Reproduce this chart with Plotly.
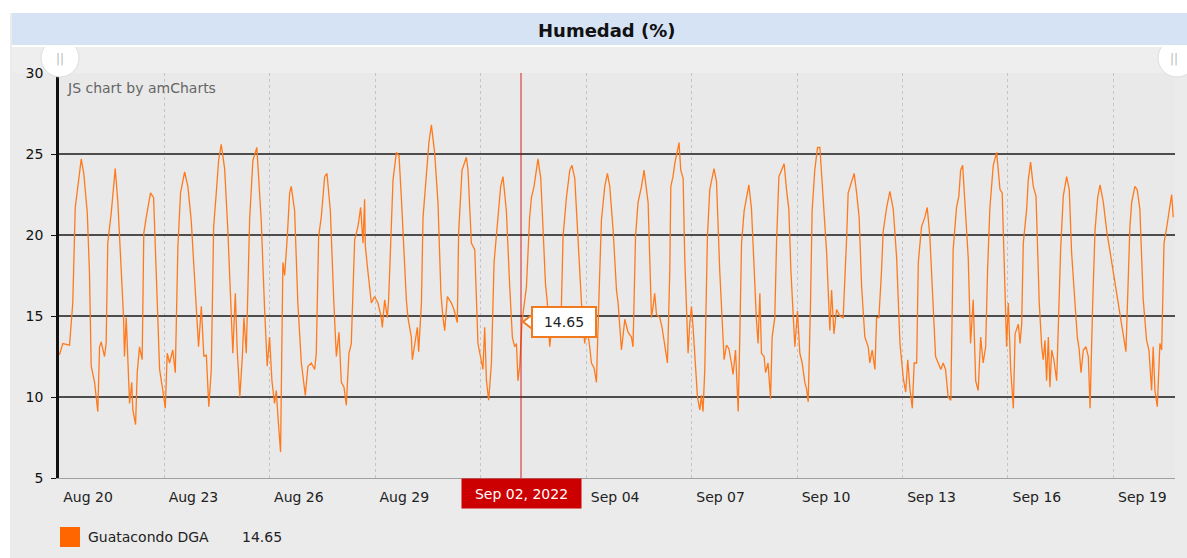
import pandas as pd
import plotly.graph_objects as go

# ---------------- data ----------------
START = "2022-08-20 00:00"
hours = [
    0.3, 2.6, 7.2, 9.4, 11.1, 12.8, 15.2, 16.9, 19.3, 20.8, 22.0, 24.3, 26.5, 27.7, 28.8, 31.1, 32.2, 33.3,
    35.7, 38.4, 40.2, 42.5, 44.1, 44.7, 45.9, 48.2, 49.7, 50.4, 52.3, 53.4, 55.0, 56.8, 57.9, 59.6, 62.5,
    64.6, 66.4, 68.7, 70.9, 72.6, 73.9, 75.5, 77.7, 79.4, 81.2, 83.0, 85.8, 88.0, 90.3, 92.6, 93.7, 95.3,
    97.2, 98.9, 100.6, 102.3, 104.0, 105.6, 107.4, 109.0, 110.8, 113.1, 115.3, 117.6, 118.7, 120.4, 121.7,
    123.5, 125.2, 126.3, 127.9, 130.2, 132.4, 135.1, 136.5, 138.1, 140.4, 142.2, 143.8, 145.4, 147.2,
    148.4, 149.5, 151.3, 152.9, 154.1, 155.9, 157.5, 158.6, 160.9, 163.1, 165.5, 168.2, 170.0, 172.3,
    174.6, 175.7, 177.3, 179.1, 181.4, 183.0, 185.3, 187.7, 189.4, 191.2, 192.8, 194.6, 196.2, 198.0,
    199.6, 201.9, 204.1, 206.0, 207.6, 208.7, 209.2, 211.0, 213.3, 215.5, 217.8, 220.1, 220.8, 222.4,
    224.2, 225.1, 226.5, 228.1, 230.4, 232.2, 233.8, 235.6, 237.2, 238.3, 240.6, 241.3, 242.9, 244.7,
    245.6, 247.5, 248.6, 250.9, 252.6, 254.3, 256.5, 258.8, 260.8, 262.2, 263.4, 265.2, 268.0, 269.7,
    272.0, 272.9, 275.2, 278.2, 279.3, 281.6, 283.9, 286.1, 288.0, 289.5, 290.7, 291.9, 293.4, 295.3,
    297.1, 299.8, 301.6, 303.2, 305.5, 307.8, 309.6, 311.2, 312.4, 313.4, 314.6, 316.2, 319.2, 321.4,
    322.6, 324.4, 326.0, 327.1, 329.0, 330.5, 332.2, 333.5, 335.1, 336.7, 338.5, 340.8, 342.6, 344.2,
    346.5, 348.8, 350.3, 352.2, 354.0, 355.6, 356.8, 359.0, 360.2, 362.4, 363.6, 365.4, 367.0, 368.6,
    370.4, 372.7, 374.5, 376.1, 378.4, 380.7, 381.8, 384.1, 386.4, 388.6, 390.9, 392.0, 393.7, 395.4,
    397.8, 399.5, 401.2, 402.3, 403.4, 404.6, 405.7, 406.8, 408.0, 410.3, 411.8, 413.7, 415.5, 417.1,
    417.8, 419.3, 420.5, 422.3, 423.4, 424.6, 426.2, 427.3, 428.5, 429.6, 430.7, 431.9, 433.0, 434.6,
    436.0, 437.6, 438.7, 439.8, 441.0, 442.8, 444.4, 447.3, 449.0, 451.2, 453.5, 454.2, 455.8, 457.4,
    459.2, 460.3, 462.0, 463.8, 464.9, 466.1, 467.9, 469.5, 471.1, 472.9, 474.7, 476.3, 477.4, 478.6,
    479.7, 481.5, 482.5, 484.2, 485.9, 487.0, 488.8, 490.0, 491.6, 493.4, 495.2, 496.8, 498.4, 499.8,
    501.3, 502.5, 504.3, 505.9, 507.5, 509.3, 510.5, 511.6, 513.2, 514.3, 516.1, 518.0, 519.6, 521.8,
    524.2, 526.4, 527.6, 529.2, 531.0, 533.3, 535.5, 537.9, 538.9, 541.3, 543.0, 544.7, 546.4, 548.1,
    550.3, 552.6, 553.7, 555.3, 557.2, 558.3, 559.9, 561.7, 562.8, 565.2, 567.4, 569.7, 572.0, 574.3,
    576.5, 578.2, 579.6, 581.1, 582.7, 584.0, 585.7, 586.8, 589.0, 591.3, 592.9, 594.7, 597.0, 598.6,
    600.4, 602.2, 603.8, 605.4, 607.2, 609.0, 610.6, 612.9, 614.5, 615.7, 617.1, 618.6, 620.9, 622.5,
    624.3, 626.0, 627.7, 629.4, 631.1, 632.8, 634.1, 635.7, 638.0, 640.3, 642.6, 644.1, 645.9, 647.1,
    648.3, 649.9, 651.7, 652.9, 655.1, 656.3, 657.4, 658.5, 660.8, 661.9, 663.5, 665.3, 667.2, 669.4,
    671.1, 672.1, 673.3, 674.4, 675.6, 676.7, 677.9, 679.4, 681.3, 682.4, 684.0, 685.8, 688.1, 689.9,
    691.5, 693.8, 695.4, 696.7, 697.9, 699.5, 701.3, 702.9, 704.1, 705.9, 707.5, 709.3, 710.9, 713.2,
    715.4, 728.6, 731.3, 732.5, 734.7, 736.3, 738.1, 740.4, 742.7, 744.3, 746.1, 747.2, 748.4, 750.0,
    751.8, 753.0, 754.6, 756.5, 758.2, 759.8, 760.9,
]
humidity = [
    12.6, 13.3, 13.2, 15.8, 21.7, 23.0, 24.7, 23.8, 21.4, 17.7, 11.9, 10.9, 9.1, 13.1, 13.4, 12.5, 13.3, 19.5,
    21.4, 24.1, 22.0, 17.8, 14.9, 12.5, 14.9, 9.6, 10.9, 9.2, 8.3, 11.5, 13.1, 12.3, 20.1, 21.1, 22.6,
    22.3, 17.8, 11.7, 10.4, 9.3, 12.7, 12.1, 12.9, 11.5, 19.3, 22.6, 23.9, 23.0, 20.9, 17.2, 16.1, 13.1,
    15.6, 12.5, 12.6, 9.4, 11.7, 20.5, 22.6, 24.6, 25.6, 24.1, 20.3, 15.8, 12.7, 16.4, 12.9,
    10.0, 12.5, 14.9, 12.7, 21.0, 24.6, 25.4, 23.6, 20.9, 15.4, 11.9, 13.7, 11.0, 9.6,
    10.4, 8.8, 6.6, 18.3, 17.5, 19.9, 22.6, 23.0, 21.5, 15.8, 12.1, 10.1, 11.9, 12.1,
    11.7, 12.7, 19.9, 21.1, 23.6, 23.8, 21.5, 15.8, 12.5, 14.0, 10.9, 10.6, 9.5, 12.7,
    13.3, 19.7, 20.5, 21.7, 19.5, 22.2, 19.3, 17.7, 15.8, 16.2, 15.8, 14.9, 14.3, 16.0,
    14.9, 16.0, 19.5, 23.4, 25.1, 24.9, 22.3, 18.6, 16.0, 14.9, 13.7, 12.3, 13.3, 14.3,
    12.8, 15.8, 21.1, 24.0, 25.7, 26.8, 25.1, 22.0, 16.4, 14.9, 14.1, 16.2, 15.8, 15.4,
    14.6, 20.1, 24.0, 24.8, 24.0, 19.5, 19.1, 13.3, 12.5, 11.7, 14.3, 11.0, 9.8, 12.1,
    18.3, 20.9, 23.0, 23.6, 21.5, 16.8, 13.7, 13.1, 13.3, 11.0, 11.9, 14.65, 16.8, 21.1,
    22.3, 23.0, 24.0, 24.7, 23.5, 19.9, 17.0, 15.8, 13.1, 14.5, 13.9, 13.7, 13.7, 19.9,
    22.3, 24.0, 24.3, 23.5, 20.3, 17.5, 15.8, 13.3, 14.6, 13.1, 12.1, 11.8, 10.9, 15.8,
    20.9, 23.0, 23.8, 23.0, 20.3, 16.6, 15.8, 12.9, 14.8, 14.0, 13.7, 13.1, 19.9, 22.0,
    23.0, 24.0, 22.7, 22.0, 18.6, 14.9, 15.6, 16.4, 15.1, 14.9, 14.3, 13.1, 12.1, 17.8,
    23.0, 23.6, 24.4, 25.2, 25.7, 24.0, 23.5, 18.6, 15.8, 12.7, 14.5, 15.6, 14.3, 11.7,
    10.0, 9.2, 10.1, 9.1, 11.7, 19.9, 22.8, 24.1, 23.3, 17.8, 14.1, 12.3, 13.2, 13.0,
    12.1, 11.4, 12.9, 9.1, 13.7, 19.5, 21.5, 22.4, 23.1, 21.6, 17.8, 14.7, 13.3, 16.4,
    12.7, 12.5, 11.5, 12.1, 9.9, 13.7, 14.9, 19.5, 23.6, 24.0, 24.4, 22.8, 21.6, 17.8,
    15.3, 13.1, 15.3, 12.7, 12.1, 10.9, 10.5, 9.7, 15.8, 21.5, 24.0, 25.4, 25.4, 22.0,
    18.9, 14.1, 16.6, 13.9, 15.4, 15.0, 14.9, 19.9, 22.6, 23.3, 23.8, 22.6, 21.1, 16.8,
    13.7, 13.1, 12.1, 12.9, 11.7, 14.9, 14.9, 17.8, 20.2, 21.7, 22.7, 21.6, 18.6, 13.3,
    11.2, 10.3, 12.3, 10.5, 9.3, 12.1, 12.1, 18.3, 20.5, 21.1, 21.7, 19.9, 15.8, 12.5,
    12.1, 11.7, 12.1, 11.7, 10.0, 9.8, 19.1, 21.7, 22.4, 24.0, 24.3, 22.0, 18.6, 13.3,
    16.0, 11.0, 10.4, 13.7, 12.1, 13.1, 17.8, 21.7, 24.3, 25.1, 22.8, 22.6, 16.2, 13.1,
    15.8, 11.7, 9.3, 13.9, 14.5, 13.3, 14.5, 19.5, 21.6, 23.4, 24.5, 23.0, 22.4, 15.8,
    13.1, 12.3, 13.5, 11.0, 13.7, 10.6, 12.9, 12.3, 11.0, 15.0, 19.1, 22.4, 23.6, 22.8,
    18.9, 15.8, 13.7, 12.9, 11.5, 12.9, 13.1, 12.5, 9.3, 15.8, 20.3, 22.3, 23.1, 22.0,
    20.3, 12.8, 20.5, 22.0, 23.0, 22.8, 21.6, 16.0, 13.5, 12.9, 10.4, 13.1, 10.4, 9.4,
    13.3, 12.9, 19.5, 20.5, 21.6, 22.5, 21.1,
]
tick_dates = ["2022-08-20", "2022-08-23", "2022-08-26", "2022-08-29", "2022-09-01", "2022-09-04",
              "2022-09-07", "2022-09-10", "2022-09-13", "2022-09-16", "2022-09-19"]
# the Sep 01 label is hidden behind the cursor's date label in the original
tick_labels = ["Aug 20", "Aug 23", "Aug 26", "Aug 29", "", "Sep 04",
               "Sep 07", "Sep 10", "Sep 13", "Sep 16", "Sep 19"]
y_ticks = [5, 10, 15, 20, 25, 30]
series_name = "Guatacondo DGA"
cursor_value = 14.65
cursor_label = "Sep 02, 2022"
cursor_hours = 315.5
x_end_hours = 762.1

# ---------------- build ----------------
start = pd.Timestamp(START)
times = start + pd.to_timedelta(hours, unit="h")
cursor_time = start + pd.Timedelta(hours=cursor_hours)
x_end = start + pd.Timedelta(hours=x_end_hours)

FONT = "DejaVu Sans"
W, H = 1187, 558
L, R, T, B = 59, 12, 73, 80
PW, PH = W - L - R, H - T - B


def px_x(px):
    return (px - L) / PW


def px_y(py):
    return (H - B - py) / PH


fig = go.Figure()
fig.add_trace(go.Scatter(
    x=times, y=humidity, mode="lines", name=series_name,
    line=dict(color="#ff7a1c", width=1.3), showlegend=False, hoverinfo="skip",
))

shapes = []
# scrollbar strip
shapes.append(dict(type="rect", xref="paper", yref="paper", x0=px_x(12), x1=px_x(W + 2), y0=px_y(73), y1=px_y(47),
                   fillcolor="#eeeeee", line=dict(width=0), layer="below"))
# cursor line
shapes.append(dict(type="line", xref="x", yref="paper", x0=cursor_time, x1=cursor_time, y0=0, y1=1,
                   line=dict(color="rgba(210,0,0,0.85)", width=1)))
# balloon pointer
shapes.append(dict(type="path", xref="x", yref="y", xsizemode="pixel", ysizemode="pixel",
                   xanchor=cursor_time, yanchor=cursor_value,
                   path="M 2,0 L 11,-7 L 11,7 Z", fillcolor="white",
                   line=dict(color="#f07a20", width=2)))
# scrollbar handles (top part hidden below the title bar)
for cx in (60, 1177):
    shapes.append(dict(type="circle", xref="paper", yref="paper",
                       x0=px_x(cx - 19), x1=px_x(cx + 19), y0=px_y(58 + 19), y1=px_y(58 - 19),
                       fillcolor="white", line=dict(color="#dddddd", width=1)))
# white page margin (top and left)
shapes.append(dict(type="rect", xref="paper", yref="paper", x0=px_x(-2), x1=px_x(W + 2), y0=px_y(13), y1=px_y(-2),
                   fillcolor="white", line=dict(width=0)))
shapes.append(dict(type="rect", xref="paper", yref="paper", x0=px_x(-2), x1=px_x(10), y0=px_y(H + 2), y1=px_y(-2),
                   fillcolor="white", line=dict(width=0), layer="below"))
# title bar
shapes.append(dict(type="rect", xref="paper", yref="paper", x0=px_x(12), x1=px_x(W + 2), y0=px_y(45), y1=px_y(13),
                   fillcolor="#d5e3f5", line=dict(width=0)))
shapes.append(dict(type="line", xref="paper", yref="paper", x0=px_x(12), x1=px_x(W + 2), y0=px_y(46), y1=px_y(46),
                   line=dict(color="white", width=2)))
# legend swatch
shapes.append(dict(type="rect", xref="paper", yref="paper", x0=px_x(60), x1=px_x(80), y0=px_y(547), y1=px_y(527),
                   fillcolor="#ff6600", line=dict(width=0)))

annotations = [
    dict(text="<b>Humedad (%)</b>", xref="paper", yref="paper", x=px_x(607), y=px_y(30),
         showarrow=False, font=dict(family=FONT, size=18, color="#111"), xanchor="center", yanchor="middle"),
    dict(text="JS chart by amCharts", xref="paper", yref="paper", x=px_x(65), y=px_y(88),
         showarrow=False, font=dict(family=FONT, size=14, color="#666"), xanchor="left", yanchor="middle"),
    dict(text=f"{cursor_value:.2f}", xref="x", yref="y", x=cursor_time, y=cursor_value,
         xanchor="left", yanchor="middle", xshift=10, showarrow=False,
         bgcolor="white", bordercolor="#f07a20", borderwidth=2, borderpad=3, width=56, height=22,
         font=dict(family=FONT, size=14, color="#222")),
    dict(text=cursor_label, xref="x", yref="paper", x=cursor_time, y=0, yanchor="top", xanchor="center",
         showarrow=False, bgcolor="#cc0000", borderpad=3, width=113, height=23,
         font=dict(family=FONT, size=14, color="white")),
    dict(text=series_name, xref="paper", yref="paper", x=px_x(86), y=px_y(537), xanchor="left", yanchor="middle",
         showarrow=False, font=dict(family=FONT, size=14, color="#222")),
    dict(text=f"{cursor_value:.2f}", xref="paper", yref="paper", x=px_x(240), y=px_y(537), xanchor="left",
         yanchor="middle", showarrow=False, font=dict(family=FONT, size=14, color="#222")),
]
for cx in (60, 1174):
    annotations.append(dict(text="||", xref="paper", yref="paper", x=px_x(cx), y=px_y(59), showarrow=False,
                            font=dict(family=FONT, size=12, color="#bbbbbb"), xanchor="center", yanchor="middle"))

fig.update_layout(
    width=W, height=H,
    margin=dict(l=L, r=R, t=T, b=B),
    paper_bgcolor="#ebebeb", plot_bgcolor="#e9e9e9",
    font=dict(family=FONT, size=14, color="#222"),
    shapes=shapes, annotations=annotations,
    showlegend=False,
)
fig.update_xaxes(
    type="date", range=[start, x_end],
    tickmode="array", tickvals=tick_dates, ticktext=tick_labels,
    ticklabelshift=29, ticklabelstandoff=6, ticks="",
    showgrid=True, gridcolor="#c4c4c4", griddash="dot", gridwidth=1,
    showline=True, linecolor="#a0a0a0", linewidth=1,
    tickfont=dict(family=FONT, size=14, color="#222"), zeroline=False,
)
fig.update_yaxes(
    range=[5, 30], tickmode="array", tickvals=y_ticks,
    showgrid=True, gridcolor="#4d4d4d", gridwidth=1.6,
    showline=True, linecolor="#111", linewidth=2.5,
    ticks="outside", ticklen=5, tickcolor="#111", tickwidth=1,
    ticklabelstandoff=5,
    tickfont=dict(family=FONT, size=14, color="#111"), zeroline=False,
)

fig.write_html("out.html", config={"displayModeBar": False},
               post_script="document.body.style.margin='0';document.body.style.overflow='hidden';")
